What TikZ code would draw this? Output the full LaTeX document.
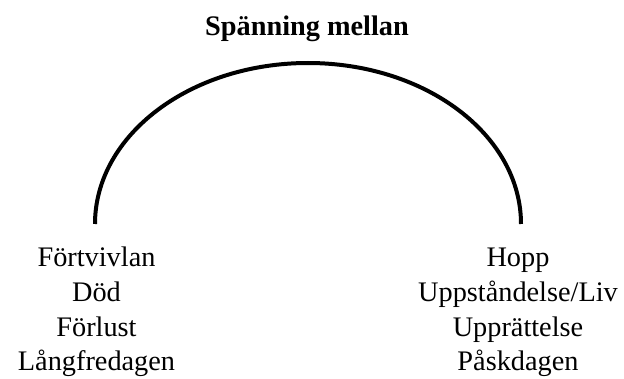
\documentclass[tikz,border=0pt]{standalone}
\usepackage{fontspec}
\setmainfont{Liberation Serif}
\begin{document}
\begin{tikzpicture}[x=1pt,y=1pt,
  lbl/.style={anchor=base,inner sep=0pt,font=\fontsize{28.3}{33}\selectfont},
  ttl/.style={anchor=base,inner sep=0pt,font=\fontsize{28.3}{33}\selectfont\bfseries},
  arcline/.style={line width=4pt,black}]
\useasboundingbox (0,0) rectangle (624,378);
\node[ttl] (title) at (307,378-36) {Spänning mellan};
\coordinate (aL) at (95,378-224);
\draw[arcline] (aL) arc[start angle=180,end angle=0,x radius=213,y radius=161] coordinate (aR);
\node[lbl] (l1) at (96.5,378-267) {Förtvivlan};
\node[lbl] (l2) at (96.5,378-301.5) {Död};
\node[lbl] (l3) at (96.5,378-336) {Förlust};
\node[lbl] (l4) at (96.5,378-370.5) {Långfredagen};
\node[lbl] (r1) at (518,378-267) {Hopp};
\node[lbl] (r2) at (518,378-301.5) {Uppståndelse/Liv};
\node[lbl] (r3) at (518,378-336) {Upprättelse};
\node[lbl] (r4) at (518,378-370.5) {Påskdagen};
\end{tikzpicture}
\end{document}
